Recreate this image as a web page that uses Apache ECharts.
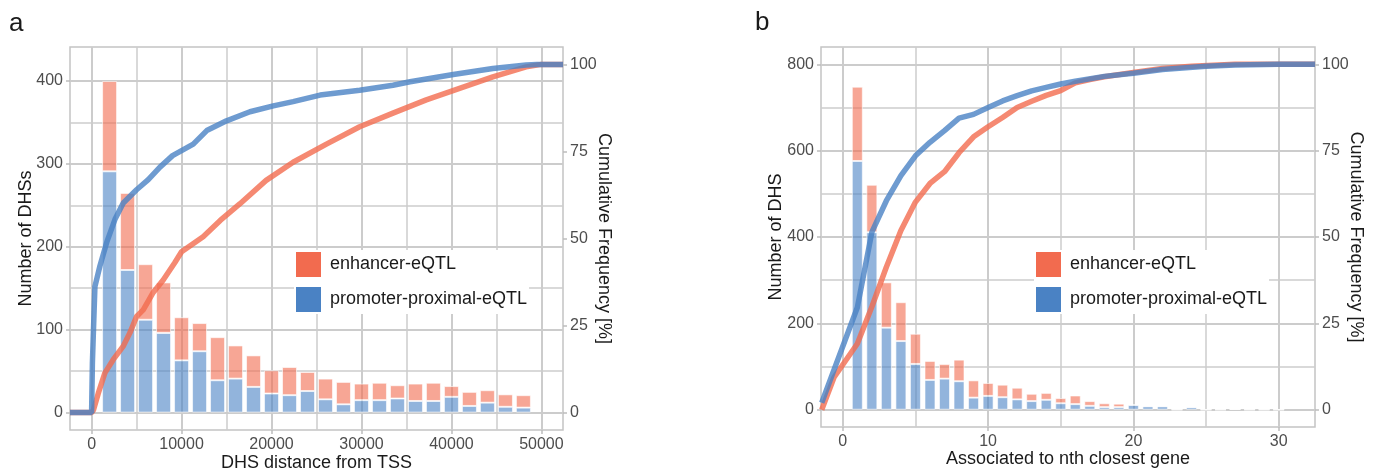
<!DOCTYPE html>
<html>
<head>
<meta charset="utf-8">
<script src="https://cdn.jsdelivr.net/npm/echarts@6/dist/echarts.min.js"></script>
<style>
  html, body { margin: 0; padding: 0; background: #fff; }
  #chart { width: 1378px; height: 468px; }
</style>
</head>
<body>
<div id="chart"></div>
<script>
// ---- panel a: DHS distance from TSS ----
var binsA = [2000, 4000, 6000, 8000, 10000, 12000, 14000, 16000, 18000, 20000, 22000, 24000,
  26000, 28000, 30000, 32000, 34000, 36000, 38000, 40000, 42000, 44000, 46000, 48000];
var promoterA = [291, 172, 112, 96, 63, 74, 39, 41, 31, 23, 21, 26, 16, 10, 15, 15, 17, 14, 14, 19, 8, 12, 7, 6];
var enhancerA = [109, 93, 67, 61, 52, 34, 52, 40, 38, 28, 34, 23, 25, 27, 20, 21, 16, 21, 22, 13, 17, 15, 15, 15];
// cumulative frequency [%]
var cumPromoterA = [[-2400, 0], [0, 0], [90, 14.3], [185, 21.9], [370, 36.2], [926, 42.1], [1670, 48.8],
  [2600, 55.5], [3520, 60.2], [5000, 64.0], [6300, 66.9], [7600, 70.5], [9000, 73.8], [11300, 77.1],
  [12800, 81.0], [15000, 83.8], [17600, 86.4], [20200, 88.1], [22400, 89.3], [25400, 91.2],
  [29800, 92.6], [33500, 94.0], [35400, 95.0], [40200, 97.1], [44600, 98.8], [48300, 99.8],
  [49500, 100], [52400, 100]];
var cumEnhancerA = [[-2400, 0], [0, 0], [200, 0.7], [740, 5.5], [1480, 11.4], [2400, 15.2], [3500, 19.0],
  [4260, 22.9], [5000, 27.6], [5740, 29.5], [6850, 34.5], [7960, 38.1], [9260, 43.1], [10000, 46.2],
  [12400, 50.5], [14300, 55.2], [16500, 60.0], [19400, 66.7], [22400, 71.9], [26100, 77.1],
  [29800, 82.1], [33500, 86.0], [37200, 89.8], [40900, 93.1], [44600, 96.4], [48300, 99.3],
  [50000, 100], [52400, 100]];
var xTicksA = [0, 10000, 20000, 30000, 40000, 50000];
var xMinorA = [5000, 15000, 25000, 35000, 45000];
var yTicksA = [0, 100, 200, 300, 400];
var yMinorA = [50, 150, 250, 350];

// ---- panel b: associated to nth closest gene ----
var binsB = [1, 2, 3, 4, 5, 6, 7, 8, 9, 10, 11, 12, 13, 14, 15, 16, 17, 18, 19, 20,
  21, 22, 23, 24, 25, 26, 27, 28, 29, 30];
var promoterB = [576, 411, 190, 159, 106, 69, 72, 66, 28, 32, 29, 24, 20, 23, 15, 13, 9, 6, 6, 11,
  8, 8, 0, 6, 0, 0, 1, 0, 0, 0];
var enhancerB = [172, 110, 105, 90, 70, 44, 34, 50, 40, 30, 29, 27, 17, 16, 12, 20, 11, 9, 8, 1,
  0, 0, 0, 0, 0, 0, 0, 0, 0, 0];
var cumPromoterB = [[-1.45, 2], [1, 29.6], [2, 51.4], [3, 60.5], [4, 67.8], [5, 73.5], [6, 77.4],
  [7, 80.8], [8, 84.4], [9, 85.5], [10, 87.5], [11, 89.4], [12, 90.9], [13, 92.3], [14, 93.3],
  [15, 94.3], [16, 95.1], [18, 96.5], [20, 97.4], [22, 98.5], [25, 99.4], [27, 99.8], [30, 100],
  [32.5, 100]];
var cumEnhancerB = [[-1.45, 0], [-0.6, 9.4], [1, 19.1], [2, 29.8], [3, 41.3], [4, 51.9], [5, 60.1],
  [6, 65.5], [7, 68.9], [8, 74.4], [9, 79.0], [10, 81.9], [11, 84.6], [12, 87.5], [13, 89.3],
  [14, 91.0], [15, 92.4], [16, 94.6], [17, 95.6], [18, 96.4], [20, 97.6], [22, 98.8], [24, 99.4],
  [27, 100], [32.5, 100]];
var xTicksB = [0, 10, 20, 30];
var xMinorB = [5, 15, 25];
var yTicksB = [0, 200, 400, 600, 800];
var yMinorB = [100, 300, 500, 700];
var pctTicks = [0, 25, 50, 75, 100];

var RED = "#F26B4F", BLUE = "#4A82C4";
var GRID = "#cccccc", TEXT = "#4d4d4d", TICK = "#bdbdbd";

// [count, bin] so that the count column is the one ECharts stacks
function pairs(xs, ys) {
  return xs.map(function(x, i) { return [ys[i], x]; });
}

var nameStyle = { fontSize: 18, color: "#1a1a1a" };

// major axis: labels + ticks + major gridlines
function majorAxis(grid, min, max, ticks, extra) {
  var ax = {
    gridIndex: grid, type: "value", min: min, max: max,
    axisLine: { show: false, onZero: false },
    axisTick: { show: true, customValues: ticks, length: 4, lineStyle: { color: TICK, width: 1.5 } },
    axisLabel: { customValues: ticks, fontSize: 16, color: TEXT, margin: 7,
      formatter: function(v) { return String(v); } },
    splitLine: { show: true, lineStyle: { color: GRID, width: 2 } },
    nameLocation: "middle", nameMoveOverlap: false,
    nameTextStyle: nameStyle
  };
  return Object.assign(ax, extra || {});
}
// minor axis: only the thinner gridlines
function minorAxis(grid, min, max, ticks, pos) {
  return {
    gridIndex: grid, type: "value", min: min, max: max, position: pos,
    axisLine: { show: false, onZero: false },
    axisTick: { show: false, customValues: ticks },
    axisLabel: { show: false, customValues: ticks },
    splitLine: { show: true, lineStyle: { color: GRID, width: 1.5 } }
  };
}
function pctAxis(grid) {
  return {
    gridIndex: grid, type: "value", min: -5, max: 105, position: "right",
    axisLine: { show: false, onZero: false },
    axisTick: { show: true, customValues: pctTicks, length: 4, lineStyle: { color: TICK, width: 1.5 } },
    axisLabel: { customValues: pctTicks, fontSize: 16, color: TEXT, margin: 7 },
    splitLine: { show: false },
    name: "Cumulative Frequency [%]",
    nameLocation: "middle", nameRotate: -90, nameGap: 32, nameMoveOverlap: false,
    nameTextStyle: nameStyle
  };
}
function legendAt(left) {
  return {
    orient: "vertical", left: left, top: 250, padding: 2, itemGap: 10,
    itemWidth: 25, itemHeight: 25, icon: "rect", backgroundColor: "#fff",
    textStyle: { fontSize: 18, color: "#1a1a1a", padding: [0, 0, 0, 4] },
    data: [
      { name: "enhancer-eQTL", itemStyle: { color: RED, opacity: 1, borderWidth: 0 } },
      { name: "promoter-proximal-eQTL", itemStyle: { color: BLUE, opacity: 1, borderWidth: 0 } }
    ]
  };
}

var chart = echarts.init(document.getElementById("chart"), null, { renderer: "canvas" });

var barStyle = function(c) {
  return { color: c, opacity: 0.6, borderColor: "#fff", borderWidth: 1 };
};
var lineStyle = function(c) {
  return { color: c, width: 5.5, opacity: 0.8 };
};

chart.setOption({
  animation: false,
  textStyle: { fontFamily: "Liberation Sans, Arial, sans-serif" },
  title: [
    { text: "a", left: 9, top: 11, padding: 0, textStyle: { fontSize: 26, fontWeight: "normal", color: "#1a1a1a" } },
    { text: "b", left: 755, top: 10, padding: 0, textStyle: { fontSize: 26, fontWeight: "normal", color: "#1a1a1a" } }
  ],
  legend: [legendAt(294), legendAt(1034)],
  grid: [
    { left: 70, top: 47, width: 493, height: 383, outerBoundsMode: "none", containLabel: false,
      show: true, borderColor: "#c4c4c4", borderWidth: 1.5, backgroundColor: "transparent" },
    { left: 821, top: 47, width: 494, height: 380, outerBoundsMode: "none", containLabel: false,
      show: true, borderColor: "#c4c4c4", borderWidth: 1.5, backgroundColor: "transparent" }
  ],
  xAxis: [
    majorAxis(0, -2400, 52400, xTicksA, { name: "DHS distance from TSS", nameGap: 24 }),
    minorAxis(0, -2400, 52400, xMinorA, "bottom"),
    majorAxis(1, -1.5, 32.5, xTicksB, { name: "Associated to nth closest gene", nameGap: 23 }),
    minorAxis(1, -1.5, 32.5, xMinorB, "bottom")
  ],
  yAxis: [
    majorAxis(0, -21, 441, yTicksA, { name: "Number of DHSs", nameGap: 35, position: "left" }),
    pctAxis(0),
    minorAxis(0, -21, 441, yMinorA, "left"),
    majorAxis(1, -40, 840, yTicksB, { name: "Number of DHS", nameGap: 36, position: "left" }),
    pctAxis(1),
    minorAxis(1, -40, 840, yMinorB, "left")
  ],
  series: [
    { name: "promoter-proximal-eQTL", type: "bar", xAxisIndex: 0, yAxisIndex: 0, stack: "a",
      encode: { x: 1, y: 0 }, barWidth: 15, itemStyle: barStyle(BLUE), data: pairs(binsA, promoterA) },
    { name: "enhancer-eQTL", type: "bar", xAxisIndex: 0, yAxisIndex: 0, stack: "a",
      encode: { x: 1, y: 0 }, barWidth: 15, itemStyle: barStyle(RED), data: pairs(binsA, enhancerA) },
    { name: "enhancer-eQTL", type: "line", xAxisIndex: 0, yAxisIndex: 1, showSymbol: false,
      lineStyle: lineStyle(RED), itemStyle: { color: RED }, data: cumEnhancerA },
    { name: "promoter-proximal-eQTL", type: "line", xAxisIndex: 0, yAxisIndex: 1, showSymbol: false,
      lineStyle: lineStyle(BLUE), itemStyle: { color: BLUE }, data: cumPromoterA },

    { name: "promoter-proximal-eQTL", type: "bar", xAxisIndex: 2, yAxisIndex: 3, stack: "b",
      encode: { x: 1, y: 0 }, barWidth: 11, itemStyle: barStyle(BLUE), data: pairs(binsB, promoterB) },
    { name: "enhancer-eQTL", type: "bar", xAxisIndex: 2, yAxisIndex: 3, stack: "b",
      encode: { x: 1, y: 0 }, barWidth: 11, itemStyle: barStyle(RED), data: pairs(binsB, enhancerB) },
    { name: "enhancer-eQTL", type: "line", xAxisIndex: 2, yAxisIndex: 4, showSymbol: false,
      lineStyle: lineStyle(RED), itemStyle: { color: RED }, data: cumEnhancerB },
    { name: "promoter-proximal-eQTL", type: "line", xAxisIndex: 2, yAxisIndex: 4, showSymbol: false,
      lineStyle: lineStyle(BLUE), itemStyle: { color: BLUE }, data: cumPromoterB }
  ]
});
</script>
</body>
</html>
